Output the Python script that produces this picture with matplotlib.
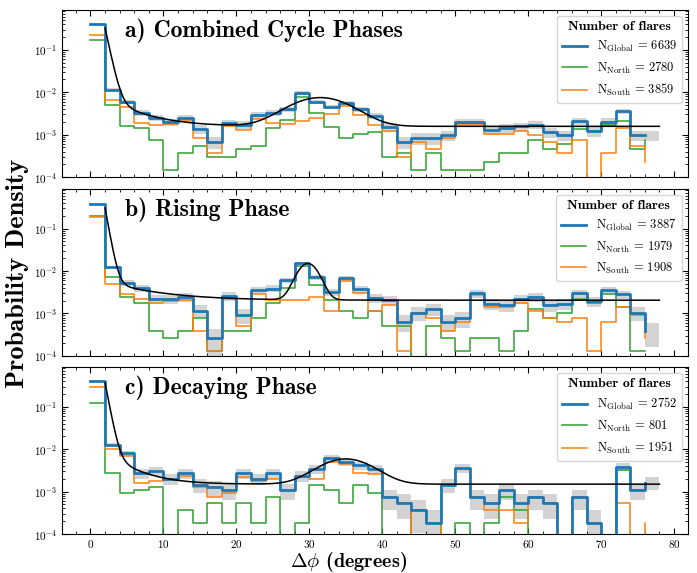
"""Flare separation histograms for the combined, rising and decaying phases.

Global counts are split into North and South; all three curves are
normalised by the global number of flares so that North + South = Global.
"""

import numpy as np
import matplotlib
matplotlib.use('Agg')
from matplotlib import pyplot as plt
from matplotlib.ticker import MultipleLocator

plt.rcParams['font.family'] = 'serif'
plt.rcParams['font.serif'] = ['cmr10']
plt.rcParams['mathtext.fontset'] = 'cm'
plt.rcParams['axes.formatter.use_mathtext'] = True

# %% CONSTANTS
BIN_WIDTH = 2
EDGES = np.arange(0, 80, BIN_WIDTH)          # 0, 2, ..., 78
TITLES = ['a) Combined Cycle Phases', 'b) Rising Phase', 'c) Decaying Phase']

# number of flares in each sample (legend)
N_GLOBAL = [6639, 3887, 2752]
N_NORTH = [2780, 1979, 801]
N_SOUTH = [3859, 1908, 1951]

# %% counts per 2 degree bin
north_a = [2216, 68, 21, 19, 10, 2, 5, 7, 4, 4, 6, 7, 19, 29, 100, 44, 20,
           11, 14, 15, 4, 5, 2, 5, 2, 2, 2, 3, 5, 5, 10, 6, 8, 18, 16, 22,
           28, 6, 10]
south_a = [3047, 85, 59, 25, 23, 24, 28, 11, 5, 21, 17, 31, 25, 24, 28, 33,
           40, 63, 39, 22, 16, 4, 9, 6, 11, 24, 24, 14, 14, 16, 13, 9, 5, 10,
           0, 5, 19, 7, 3]

north_b = [1524, 57, 19, 14, 3, 2, 3, 6, 1, 3, 3, 6, 14, 31, 103, 37, 16, 9,
           6, 9, 4, 4, 0, 4, 2, 1, 2, 2, 1, 3, 10, 6, 8, 17, 14, 22, 11, 1, 1]
south_b = [1443, 38, 22, 17, 14, 15, 16, 3, 1, 17, 4, 22, 16, 16, 16, 19, 9,
           44, 23, 9, 12, 1, 8, 6, 3, 5, 21, 11, 11, 14, 9, 6, 5, 6, 1, 5, 11,
           7, 2]

north_c = [679, 15, 5, 6, 7, 0, 2, 1, 3, 1, 3, 1, 4, 0, 1, 8, 6, 3, 8, 5, 0,
           0, 2, 1, 0, 1, 0, 1, 4, 2, 0, 0, 0, 0, 0, 0, 18, 6, 8]
south_c = [1596, 55, 39, 9, 10, 11, 13, 7, 4, 5, 12, 10, 11, 6, 12, 11, 28,
           24, 15, 14, 4, 3, 0, 0, 8, 19, 4, 2, 2, 1, 4, 3, 0, 4, 1, 0, 3, 0,
           1]

NORTH = [north_a, north_b, north_c]
SOUTH = [south_a, south_b, south_c]

# %% fit: floor + fast/slow exponential decay + gaussian bump
FIT_FLOOR = [0.00157, 0.00205, 0.0015]
FIT_FAST_AMP = [0.32, 0.30, 0.36]
FIT_FAST_TAU = [0.536, 0.45, 0.476]
FIT_SLOW_AMP = [0.0052, 0.0034, 0.006]
FIT_SLOW_TAU = [4.3, 6.3, 3.5]
FIT_GAUSS_AMP = [0.0059, 0.013, 0.0044]
FIT_GAUSS_MU = [31.5, 29.8, 35.0]
FIT_GAUSS_SIG = [3.8, 1.3, 3.3]


def fit_model(x, i):
    """Evaluate the fitted distribution of panel i."""
    return (FIT_FLOOR[i]
            + FIT_FAST_AMP[i] * np.exp(-(x - 2) / FIT_FAST_TAU[i])
            + FIT_SLOW_AMP[i] * np.exp(-(x - 2) / FIT_SLOW_TAU[i])
            + FIT_GAUSS_AMP[i] * np.exp(-(x - FIT_GAUSS_MU[i])**2
                                        / (2 * FIT_GAUSS_SIG[i]**2)))


C_GLOBAL = '#1f77b4'
C_NORTH = '#2ca02c'
C_SOUTH = '#ff7f0e'

fig = plt.figure(figsize=(6.97, 5.73), dpi=100)
AX_LEFT, AX_WIDTH = 0.089, 0.898
AX_BOTTOMS = [0.691, 0.379, 0.068]
AX_HEIGHT = 0.292

x_fit = np.linspace(2, 78, 500)

for i in range(3):
    ax = fig.add_axes([AX_LEFT, AX_BOTTOMS[i], AX_WIDTH, AX_HEIGHT])
    north = np.asarray(NORTH[i], dtype=float)
    south = np.asarray(SOUTH[i], dtype=float)
    glob = north + south
    norm = N_GLOBAL[i] * BIN_WIDTH

    # poisson error band on the global histogram
    err = np.sqrt(glob) / norm
    lo = np.maximum(glob / norm - err, 1e-6)
    hi = np.maximum(glob / norm + err, 1e-6)
    ax.fill_between(EDGES, np.append(lo, lo[-1]), np.append(hi, hi[-1]),
                    step='post', color='lightgray', lw=0, zorder=1)

    hn, = ax.step(EDGES[:-1], north / norm, where='post', color=C_NORTH,
                  lw=1.1, zorder=2)
    hs, = ax.step(EDGES[:-1], south / norm, where='post', color=C_SOUTH,
                  lw=1.1, zorder=3)
    hg, = ax.step(EDGES[:-1], glob / norm, where='post', color=C_GLOBAL,
                  lw=2.0, zorder=4)
    ax.plot(x_fit, fit_model(x_fit, i), color='k', lw=1.1, zorder=5)

    ax.set_yscale('log')
    ax.set_xlim(-3.9, 81.9)
    ax.set_ylim(1e-4, 0.88)
    ax.xaxis.set_major_locator(MultipleLocator(10))
    ax.xaxis.set_minor_locator(MultipleLocator(2))
    ax.tick_params(which='both', direction='in', top=True, right=True,
                   labelsize=8)
    ax.tick_params(axis='x', pad=2.5)
    ax.tick_params(which='major', length=4.5)
    ax.tick_params(which='minor', length=2.5)
    if i < 2:
        ax.tick_params(labelbottom=False)

    ax.text(0.10, 0.835, TITLES[i], transform=ax.transAxes, fontsize=17,
            fontfamily='cmb10', va='baseline')

    labels = [r'$\mathrm{N}_{\mathrm{Global}}\, =\, %d$' % N_GLOBAL[i],
              r'$\mathrm{N}_{\mathrm{North}}\, =\, %d$' % N_NORTH[i],
              r'$\mathrm{N}_{\mathrm{South}}\, =\, %d$' % N_SOUTH[i]]
    ax.legend([hg, hn, hs], labels, loc='upper right', fontsize=9,
              title='Number of flares',
              title_fontproperties={'family': 'cmb10', 'size': 10})

fig.text(0.025, 0.523, 'Probability Density', rotation=90, ha='center',
         va='center', fontsize=19, fontfamily='cmb10')
fig.text(0.5, 0.019, r'$\mathbf{\Delta}\phi$ (degrees)', ha='center',
         va='center', fontsize=14.5, fontfamily='cmb10')

fig.savefig('out.png', dpi=100)
